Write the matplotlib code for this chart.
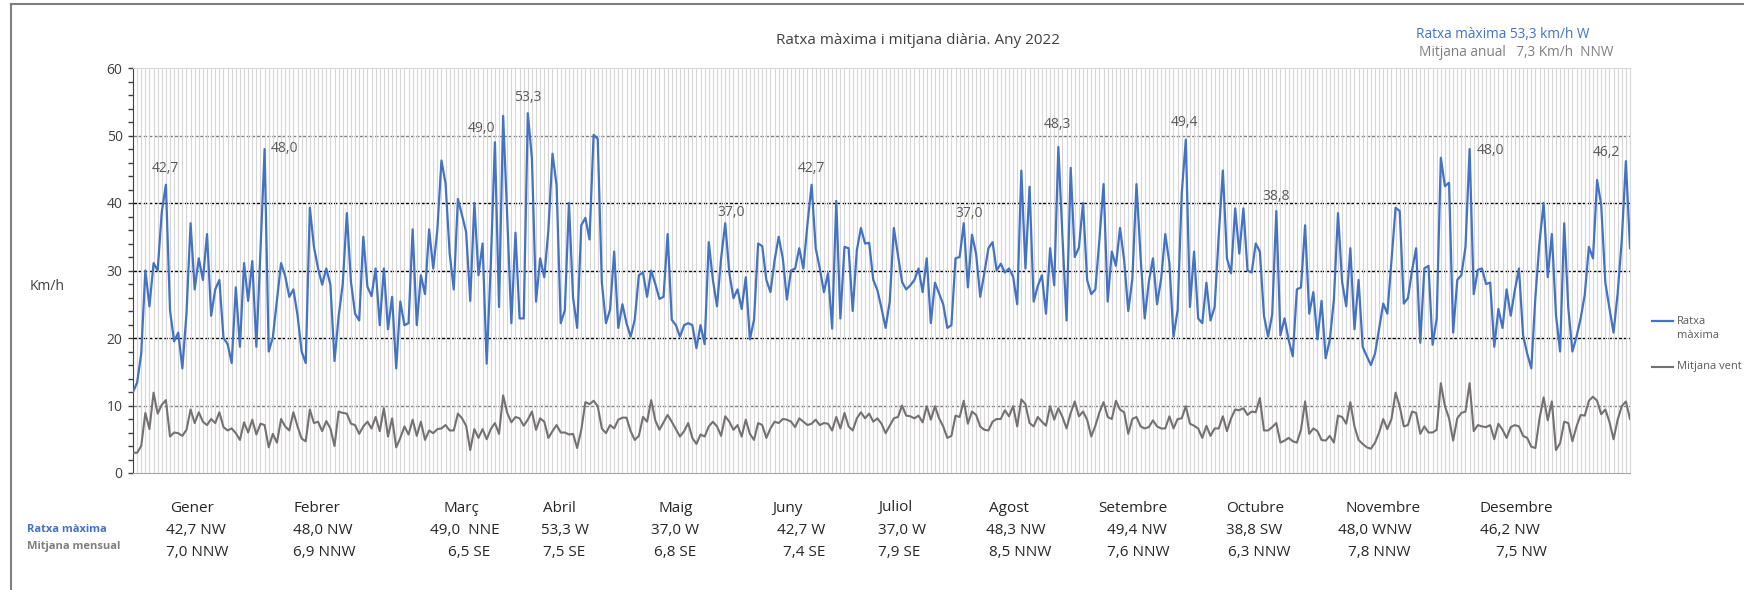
#### Ratxa màxima i mitjana diària 2022 ####

import numpy as np
import matplotlib.pyplot as plt
from matplotlib.lines import Line2D

plt.rcParams['font.family'] = ['Open Sans', 'DejaVu Sans']

# Daily data (km/h), one value per day of 2022 #

ratxa = [12.0, 13.4, 17.7, 30.0, 24.7, 31.1, 30.0, 38.7, 42.7, 24.1,
         19.5, 20.8, 15.5, 23.6, 37.0, 27.2, 31.8, 28.6, 35.4, 23.3,
         27.2, 28.6, 20.0, 19.1, 16.3, 27.5, 18.7, 31.1, 25.5, 31.4,
         18.7, 33.0, 48.0, 18.0, 20.1, 25.6, 31.1, 29.2, 26.1, 27.2,
         23.4, 18.0, 16.3, 39.3, 33.5, 30.3, 27.9, 30.3, 27.9, 16.6,
         23.2, 28.0, 38.5, 28.3, 23.6, 22.6, 35.0, 27.6, 26.2, 30.3,
         21.9, 30.3, 21.3, 26.1, 15.5, 25.4, 21.9, 22.2, 36.1, 21.9,
         29.3, 26.5, 36.1, 30.3, 36.0, 46.3, 42.9, 32.5, 27.2, 40.6,
         38.2, 35.7, 25.5, 40.0, 29.3, 34.0, 16.2, 31.0, 49.0, 24.6,
         52.9, 37.9, 22.2, 35.6, 22.9, 22.9, 53.3, 46.6, 25.4, 31.8,
         29.0, 36.0, 47.3, 42.6, 22.2, 24.1, 40.0, 26.0, 21.5, 36.7,
         37.8, 34.6, 50.1, 49.5, 28.2, 22.2, 24.2, 32.8, 21.5, 25.0,
         22.2, 20.2, 22.7, 29.3, 29.7, 26.1, 30.0, 28.0, 25.8, 26.1,
         35.4, 22.7, 21.9, 20.2, 21.9, 22.2, 21.9, 18.5, 21.9, 19.1,
         34.2, 28.6, 24.7, 31.8, 37.0, 29.6, 25.9, 27.2, 24.3, 29.0,
         19.8, 22.7, 34.0, 33.6, 28.6, 26.8, 31.5, 35.0, 31.8, 25.7,
         30.0, 30.3, 33.3, 30.3, 36.9, 42.7, 33.3, 30.3, 26.8, 29.6,
         21.4, 40.3, 22.9, 33.5, 33.3, 24.0, 33.0, 36.3, 34.0, 34.1,
         28.6, 27.1, 24.4, 21.5, 25.4, 36.3, 32.3, 28.3, 27.2, 27.8,
         28.6, 30.3, 26.8, 31.8, 22.2, 28.2, 26.6, 25.0, 21.5, 21.9,
         31.8, 32.0, 37.0, 27.5, 35.3, 32.5, 26.1, 29.6, 33.3, 34.2,
         30.0, 31.0, 29.7, 30.3, 29.1, 25.0, 44.8, 30.3, 42.4, 25.4,
         27.7, 29.3, 23.6, 33.3, 27.8, 48.3, 35.0, 22.6, 45.2, 32.0,
         33.4, 40.0, 28.6, 26.5, 27.2, 34.7, 42.8, 25.4, 32.8, 30.7,
         36.3, 31.5, 24.0, 28.8, 42.8, 32.0, 22.9, 28.3, 31.8, 25.0,
         28.8, 35.4, 31.1, 20.2, 24.1, 41.4, 49.4, 24.6, 32.8, 22.9,
         22.2, 28.2, 22.6, 24.6, 35.2, 44.8, 31.8, 29.6, 39.2, 32.5,
         39.2, 30.0, 29.7, 34.0, 32.8, 23.3, 20.2, 23.5, 38.8, 20.4,
         22.9, 19.7, 17.3, 27.2, 27.5, 36.7, 23.6, 26.8, 19.8, 25.5,
         17.0, 19.7, 25.7, 38.5, 28.3, 24.7, 33.3, 21.3, 28.6, 18.7,
         17.3, 16.0, 17.7, 21.4, 25.1, 23.6, 31.5, 39.3, 38.8, 25.1,
         25.9, 30.0, 33.3, 19.3, 30.3, 30.7, 19.0, 22.9, 46.7, 42.5,
         43.0, 20.8, 28.6, 29.3, 33.5, 48.0, 26.5, 30.1, 30.3, 28.0,
         28.2, 18.7, 24.3, 21.5, 27.2, 23.3, 27.1, 30.3, 20.4, 17.7,
         15.5, 26.1, 34.2, 40.0, 29.0, 35.4, 23.4, 18.0, 37.0, 24.4,
         18.0, 20.2, 22.9, 26.4, 33.5, 31.8, 43.4, 39.7, 28.2, 24.4,
         20.8, 26.6, 34.5, 46.2, 33.3]

mitjana = [3.0, 3.0, 4.0, 8.9, 6.5, 11.9, 8.8, 10.1, 10.8, 5.4,
           6.0, 5.9, 5.5, 6.4, 9.4, 7.4, 9.0, 7.6, 7.1, 8.0,
           7.4, 9.0, 6.8, 6.3, 6.6, 5.9, 4.9, 7.5, 6.0, 7.9,
           5.7, 7.3, 7.1, 3.8, 5.8, 4.5, 8.0, 6.9, 6.3, 9.0,
           6.9, 5.1, 4.7, 9.4, 7.4, 7.6, 6.2, 7.7, 6.6, 4.0,
           9.1, 8.9, 8.8, 7.3, 7.1, 5.8, 6.9, 7.6, 6.6, 8.3,
           6.2, 9.6, 5.4, 8.1, 3.8, 5.2, 6.9, 5.7, 7.9, 5.5,
           7.6, 4.9, 6.3, 5.9, 6.5, 6.6, 7.1, 6.3, 6.3, 8.8,
           8.1, 7.0, 3.4, 6.5, 5.2, 6.5, 5.0, 6.5, 7.4, 5.8,
           11.5, 8.9, 7.5, 8.3, 8.1, 7.0, 7.9, 9.1, 6.4, 8.1,
           7.6, 5.2, 6.2, 7.1, 6.0, 6.0, 5.7, 5.8, 3.7, 6.4,
           10.5, 10.2, 10.7, 9.9, 6.6, 5.9, 7.1, 6.6, 7.9, 8.2,
           8.2, 6.2, 4.9, 5.5, 8.3, 7.6, 10.8, 7.8, 6.4, 7.5,
           8.6, 7.6, 6.5, 5.4, 6.2, 7.4, 5.2, 4.3, 5.7, 5.4,
           6.9, 7.6, 6.9, 5.5, 8.4, 7.6, 6.4, 7.1, 5.4, 7.9,
           5.8, 4.9, 7.4, 7.1, 5.2, 6.6, 7.6, 7.4, 8.0, 7.9,
           7.6, 6.8, 8.1, 7.6, 7.1, 7.3, 7.9, 7.1, 7.4, 7.3,
           6.3, 8.3, 6.6, 8.9, 6.9, 6.3, 8.1, 9.0, 8.1, 8.8,
           7.6, 8.1, 7.3, 5.9, 7.0, 8.1, 8.3, 10.0, 8.5, 8.4,
           8.1, 8.5, 7.5, 9.9, 7.9, 9.9, 8.1, 6.9, 5.2, 5.5,
           8.5, 8.3, 10.7, 7.3, 9.1, 8.6, 6.9, 6.4, 6.3, 7.6,
           8.0, 8.0, 9.3, 8.4, 9.9, 6.9, 10.9, 10.2, 7.4, 6.9,
           8.3, 7.6, 7.0, 9.9, 7.9, 9.6, 8.3, 6.6, 8.9, 10.6,
           8.4, 9.1, 7.9, 5.4, 7.0, 9.0, 10.5, 8.3, 8.0, 10.7,
           9.4, 9.0, 5.8, 8.0, 8.3, 6.9, 6.6, 6.8, 7.8, 6.9,
           6.6, 6.6, 8.4, 6.6, 8.0, 8.1, 9.9, 7.3, 7.0, 6.6,
           5.2, 7.0, 5.5, 6.6, 6.6, 8.4, 6.2, 8.1, 9.4, 9.3,
           9.6, 8.6, 9.1, 9.0, 11.1, 6.3, 6.3, 6.8, 7.4, 4.5,
           4.8, 5.2, 4.7, 4.5, 6.4, 10.6, 5.8, 6.6, 6.2, 4.9,
           4.8, 5.5, 4.5, 8.5, 8.3, 7.3, 10.5, 6.9, 4.9, 4.3,
           3.8, 3.6, 4.5, 6.0, 8.0, 6.5, 8.0, 11.9, 9.9, 6.9,
           7.1, 9.1, 8.9, 5.8, 6.9, 6.0, 6.0, 6.4, 13.3, 9.9,
           8.1, 4.8, 8.1, 8.9, 9.1, 13.3, 6.2, 7.1, 6.9, 6.8,
           7.1, 5.0, 7.3, 6.4, 5.2, 6.8, 7.1, 6.9, 5.5, 5.2,
           3.9, 3.7, 8.1, 11.2, 7.8, 10.6, 3.4, 4.4, 7.6, 7.4,
           4.7, 6.9, 8.6, 8.5, 10.7, 11.3, 10.7, 8.7, 9.4, 7.6,
           5.0, 7.9, 9.9, 10.6, 8.0]

# Days with a data label (index in the year) #
dies_etiqueta = [8, 32, 88, 96, 144, 165, 202, 225, 256, 278, 325, 363]

# Monthly summary table #
mesos = ['Gener', 'Febrer', 'Març', 'Abril', 'Maig', 'Juny', 'Juliol',
         'Agost', 'Setembre', 'Octubre', 'Novembre', 'Desembre']
ratxa_mes = ['42,7 NW', '48,0 NW', '49,0  NNE', '53,3 W', '37,0 W', '42,7 W',
             '37,0 W', '48,3 NW', '49,4 NW', '38,8 SW', '48,0 WNW', '46,2 NW']
mitjana_mes = ['7,0 NNW', '6,9 NNW', '6,5 SE', '7,5 SE', '6,8 SE', '7,4 SE',
               '7,9 SE', '8,5 NNW', '7,6 NNW', '6,3 NNW', '7,8 NNW', '7,5 NW']

# layout (pixels of the 1744x590 picture) #
W, H = 1744, 590
x_mes = [170, 293, 443, 543, 658, 772, 878, 989, 1098, 1226, 1345, 1479]
x_ratxa = [166, 293, 430, 541, 651, 777, 878, 986, 1107, 1226, 1338, 1480]
x_mitj = [166, 293, 448, 543, 654, 783, 878, 989, 1107, 1228, 1348, 1496]
# label offsets in pixels (dx, dy, ha)
offs = [(0, 16, 'center'), (6, 0, 'left'), (-13, 14, 'center'), (0, 16, 'center'),
        (6, 11, 'center'), (0, 16, 'center'), (5, 10, 'center'), (-1, 22, 'center'),
        (-1, 17, 'center'), (0, 15, 'center'), (7, -1, 'left'), (-20, 9, 'center')]

BLUE = '#4472C4'
GREY = '#767171'
TXT = '#404040'


def fx(x):
    return x / W


def fy(y):
    return 1 - y / H


dies = np.arange(len(ratxa))

fig = plt.figure(figsize=(W / 100, H / 100), dpi=100)
ax = fig.add_axes([fx(133), fy(473), fx(1630) - fx(133), fy(68) - fy(473)])

# day gridlines #
ax.set_xticks(dies)
ax.grid(axis='x', color='#d6d6d6', lw=0.8, zorder=0)
ax.tick_params(axis='x', length=0, labelbottom=False)

for lev in [10, 20, 30, 40, 50]:
    c = '#7f7f7f' if lev in (10, 50) else '#000000'
    ax.axhline(lev, color=c, lw=1.0, ls=(0, (2.5, 1.2)), zorder=1)

ax.plot(dies, ratxa, color=BLUE, lw=1.6, zorder=3)
ax.plot(dies, mitjana, color=GREY, lw=1.5, zorder=3)

for d, (dx, dy, ha) in zip(dies_etiqueta, offs):
    ax.annotate(f'{ratxa[d]:.1f}'.replace('.', ','), (d, ratxa[d]),
                xytext=(dx, dy), textcoords='offset pixels', ha=ha, va='center',
                fontsize=10, color='#595959', zorder=4)

ax.set_xlim(0, len(ratxa) - 1)
ax.set_ylim(0, 60)
ax.set_yticks(range(0, 61, 10))
ax.set_yticks(range(0, 61, 2), minor=True)
ax.tick_params(axis='y', which='both', direction='out', length=3.5, width=1,
               color='#404040', labelsize=10, labelcolor=TXT, pad=4)
ax.spines['left'].set_color('#404040')
ax.spines['bottom'].set_color('#a6a6a6')
ax.spines['top'].set_color('#d9d9d9')
ax.spines['right'].set_color('#d9d9d9')

# texts #
fig.text(fx(918), fy(41), 'Ratxa màxima i mitjana diària. Any 2022', ha='center',
         va='center', fontsize=11, color=TXT)
fig.text(fx(1416), fy(35), 'Ratxa màxima 53,3 km/h W', ha='left', va='center',
         fontsize=9.8, color=BLUE)
fig.text(fx(1419), fy(53), 'Mitjana anual   7,3 Km/h  NNW', ha='left', va='center',
         fontsize=9.8, color='#7f7f7f')
fig.text(fx(47), fy(287), 'Km/h', ha='center', va='center', fontsize=10, color=TXT)

# legend on the right #
fig.add_artist(Line2D([fx(1652), fx(1673)], [fy(321), fy(321)], color=BLUE, lw=1.6))
fig.add_artist(Line2D([fx(1652), fx(1673)], [fy(367), fy(367)], color=GREY, lw=1.5))
fig.text(fx(1677), fy(321), 'Ratxa', ha='left', va='center', fontsize=8, color='#595959')
fig.text(fx(1677), fy(336), 'màxima', ha='left', va='center', fontsize=8, color='#595959')
fig.text(fx(1677), fy(367), 'Mitjana vent', ha='left', va='center', fontsize=8, color='#595959')

# monthly table #
fig.text(fx(27), fy(530), 'Ratxa màxima', ha='left', va='center', fontsize=8,
         fontweight='bold', color=BLUE)
fig.text(fx(27), fy(547), 'Mitjana mensual', ha='left', va='center', fontsize=8,
         fontweight='bold', color='#7f7f7f')
for i in range(len(mesos)):
    fig.text(fx(x_mes[i]), fy(508), mesos[i], ha='left', va='center', fontsize=11, color='#262626')
    fig.text(fx(x_ratxa[i]), fy(531), ratxa_mes[i], ha='left', va='center', fontsize=11, color='#262626')
    fig.text(fx(x_mitj[i]), fy(552), mitjana_mes[i], ha='left', va='center', fontsize=11, color='#262626')

# outer frame #
fig.add_artist(Line2D([fx(11), fx(11)], [fy(4), 0], color='#7f7f7f', lw=1.5))
fig.add_artist(Line2D([fx(11), 1], [fy(4), fy(4)], color='#7f7f7f', lw=1.5))

fig.savefig('out.png', dpi=100)
